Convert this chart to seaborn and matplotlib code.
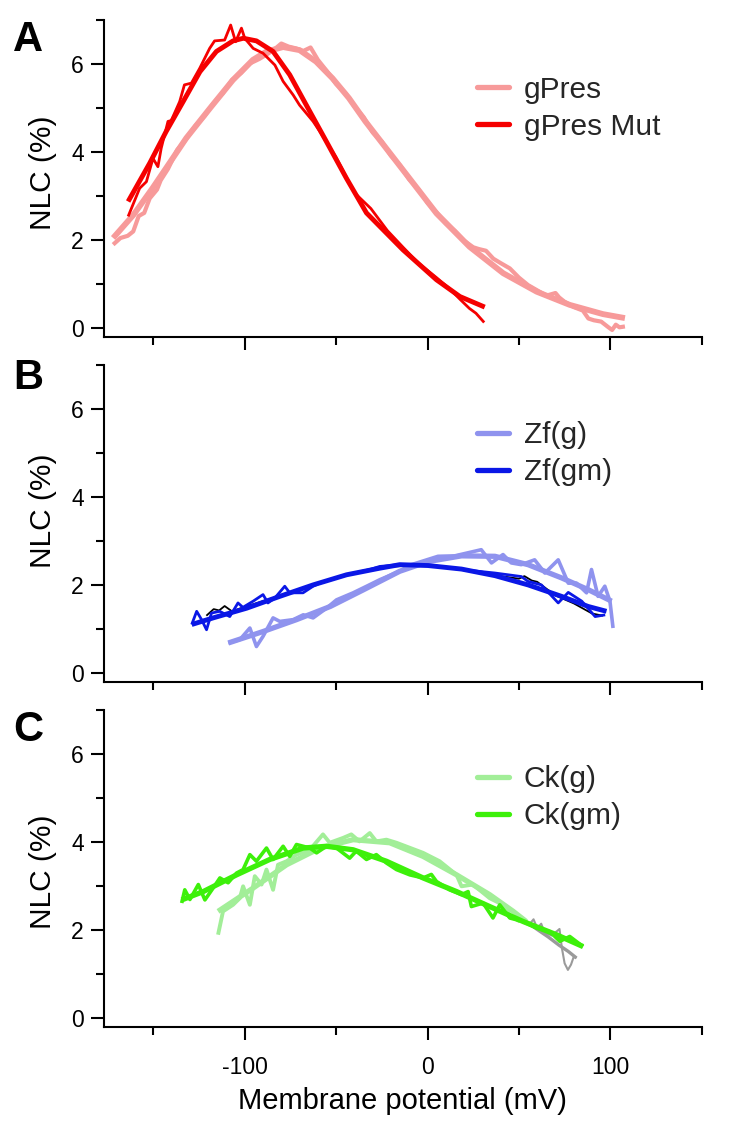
import matplotlib
matplotlib.use("Agg")
import matplotlib.pyplot as plt
from matplotlib.lines import Line2D
from matplotlib.ticker import MultipleLocator, FixedLocator
import seaborn as sns

# ---------------- data ----------------
# Panel A : gPres / gPres Mut
a_g_fit_x = [-172, -161, -150.5, -143, -132, -119, -106.5, -95.5, -88, -79, -70, -61, -52, -43, -34,
             -13.5, 4.9, 23, 41.4, 59.7, 77.8, 96, 108]
a_g_fit_y = [2.05, 2.57, 3.18, 3.64, 4.32, 5.0, 5.64, 6.10, 6.29, 6.39, 6.32, 6.06, 5.68, 5.23, 4.70,
             3.60, 2.61, 1.85, 1.25, 0.83, 0.53, 0.32, 0.23]
a_g_raw_x = [-172, -168, -164, -161, -158, -155, -152, -148, -146, -142, -137, -132, -127, -122, -117,
             -112, -107, -102, -97, -92, -88, -84, -80, -76, -72, -68, -64, -60, -55, -50, -45, -40,
             -35, -30, -25, -20, -15, -10, -5, 0, 5, 10, 15, 20, 25, 28, 32, 36, 40, 45, 50, 55, 60,
             65, 70, 72, 75, 80, 85, 88, 91, 95, 99, 101, 103, 105, 108]
a_g_raw_y = [1.90, 2.05, 2.10, 2.20, 2.55, 2.62, 2.95, 3.15, 3.36, 3.62, 4.05, 4.30, 4.60, 4.82, 5.12,
             5.34, 5.64, 5.80, 6.02, 6.12, 6.22, 6.33, 6.47, 6.40, 6.36, 6.30, 6.38, 6.10, 5.84, 5.55,
             5.35, 5.04, 4.80, 4.45, 4.24, 3.92, 3.70, 3.38, 3.16, 2.85, 2.63, 2.38, 2.21, 1.99, 1.84,
             1.80, 1.76, 1.58, 1.48, 1.36, 1.15, 0.98, 0.86, 0.74, 0.80, 0.70, 0.60, 0.48, 0.40, 0.22,
             0.18, 0.15, 0.02, -0.04, 0.08, 0.02, 0.04]
a_m_fit_x = [-163.8, -152, -143, -133.7, -124.5, -115.5, -106.4, -100.8, -93.6, -84.5, -75.4, -66.3,
             -55.3, -44.4, -33.4, -13.4, 4.9, 17.7, 31.3]
a_m_fit_y = [2.88, 3.75, 4.47, 5.15, 5.83, 6.29, 6.53, 6.59, 6.53, 6.29, 5.76, 5.07, 4.24, 3.41, 2.62,
             1.78, 1.10, 0.72, 0.48]
a_m_raw_x = [-163.8, -157.5, -153.8, -150.2, -147.5, -145.7, -142, -140.2, -135.6, -133, -129.2, -124.6,
             -119.2, -116.5, -111, -107.7, -105, -101.8, -100, -95.4, -90, -83.5, -79, -73.5, -70,
             -62.6, -58.9, -50, -40, -31, -22, -13.4, -5, 4.9, 12, 17.7, 22.9, 26.5, 31]
a_m_raw_y = [2.54, 3.18, 3.33, 3.86, 3.67, 4.09, 4.70, 4.72, 5.15, 5.53, 5.57, 5.91, 6.36, 6.53, 6.55,
             6.89, 6.51, 6.82, 6.59, 6.36, 6.25, 5.98, 5.61, 5.30, 5.07, 4.70, 4.47, 3.88, 3.08, 2.72,
             2.22, 1.84, 1.48, 1.15, 0.90, 0.66, 0.45, 0.34, 0.13]

# Panel B : Zf(g) / Zf(gm)
b_g_fit_x = [-109, -90, -71.7, -53.2, -35, -15.2, 0.3, 18.6, 36.9, 55, 73.3, 88, 100.7]
b_g_fit_y = [0.68, 0.94, 1.21, 1.51, 1.89, 2.31, 2.53, 2.66, 2.65, 2.46, 2.16, 1.89, 1.63]
b_g_raw_x = [-109, -102.6, -97.2, -93.6, -90, -84.5, -80.8, -73.5, -68, -62.6, -55.3, -49.8, -40.7,
             -33.3, -26, -15.2, -8.8, 5.7, 14.9, 29.4, 35, 41.3, 45.8, 51.3, 58.6, 64.2, 71.5, 77,
             81.5, 87, 89.7, 93.3, 97, 99.8, 101.5]
b_g_raw_y = [0.68, 0.76, 1.02, 0.60, 0.83, 1.25, 1.17, 1.21, 1.32, 1.25, 1.47, 1.66, 1.82, 1.97, 2.12,
             2.31, 2.46, 2.65, 2.66, 2.80, 2.50, 2.69, 2.50, 2.46, 2.57, 2.27, 2.57, 2.04, 2.04, 1.82,
             2.35, 1.74, 1.97, 1.63, 1.02]
b_m_fit_x = [-129, -117.3, -99, -80.8, -62.6, -44.3, -26.1, -15.2, 0.3, 18.6, 36.9, 55, 73.3, 87.9, 97.9]
b_m_fit_y = [1.10, 1.25, 1.47, 1.74, 2.00, 2.23, 2.38, 2.46, 2.44, 2.36, 2.21, 2.00, 1.74, 1.51, 1.40]
b_m_raw_x = [-129, -126.3, -123.6, -120.9, -118.2, -113.7, -108.2, -103.7, -101, -95.4, -90, -87.3,
             -83.6, -78.1, -75.4, -68.1, -62.6, -58.9, -44.3, -31.6, -26.1, -15.2, 0.3, 18.6, 36.9,
             51.3, 55, 62.3, 71.5, 77, 84.4, 91.7, 97.2]
b_m_raw_y = [1.10, 1.40, 1.21, 0.98, 1.36, 1.40, 1.28, 1.59, 1.49, 1.63, 1.78, 1.59, 1.70, 1.97, 1.82,
             1.82, 1.97, 2.04, 2.23, 2.35, 2.42, 2.46, 2.45, 2.35, 2.27, 2.19, 2.08, 2.00, 1.59, 1.83,
             1.63, 1.28, 1.32]
b_k_raw_x = [-121, -117, -114, -111, -107, -100, -80, -60, -40, -20, 0, 20, 40, 50, 53, 57, 60, 70, 80, 90, 96]
b_k_raw_y = [1.30, 1.45, 1.42, 1.52, 1.40, 1.50, 1.76, 2.02, 2.27, 2.42, 2.44, 2.35, 2.20, 2.14, 2.20,
             2.10, 2.07, 1.76, 1.58, 1.35, 1.30]

# Panel C : Ck(g) / Ck(gm)
c_g_fit_x = [-114.6, -95.4, -77.1, -58.8, -40.7, -20.7, -2.4, 15.9, 34, 46.9, 54]
c_g_fit_y = [2.43, 2.96, 3.49, 3.87, 4.06, 3.99, 3.68, 3.26, 2.81, 2.43, 2.20]
c_g_raw_x = [-114.6, -111.9, -106.4, -102.7, -100.9, -97.2, -94.5, -90.8, -88.1, -84.5, -81.8, -77.1,
             -71.7, -64.4, -57.2, -53.5, -46.2, -41.7, -37.2, -31.6, -28, -22.5, -17, -2.4, 6.6, 15.9,
             18.6, 24.8, 34, 41.3, 45, 50.4]
c_g_raw_y = [1.90, 2.43, 2.58, 2.73, 3.00, 2.58, 3.23, 3.04, 3.38, 2.92, 3.49, 3.57, 3.72, 3.83, 4.18,
             3.99, 4.10, 4.18, 4.02, 4.21, 4.02, 4.06, 3.99, 3.76, 3.57, 3.26, 3.00, 3.04, 2.73, 2.58,
             2.35, 2.20]
c_m_fit_x = [-134.5, -122.7, -104.5, -86.3, -68, -55.3, -40.7, -22.5, -2.4, 15.9, 34, 52.3, 70.5, 85.1]
c_m_fit_y = [2.69, 2.88, 3.26, 3.61, 3.87, 3.91, 3.83, 3.57, 3.19, 2.88, 2.54, 2.20, 1.90, 1.63]
c_m_raw_x = [-134.5, -132.8, -130, -125.4, -121.8, -117.3, -113.6, -109.1, -104.5, -100.9, -97.2, -93.6,
             -88.1, -84.5, -79, -75.4, -71.7, -64.4, -60.7, -55.3, -49.8, -42.6, -39, -33.4, -28, -22.5,
             -17, -9.7, -2.4, 2.1, 4.9, 12.1, 18.6, 22.2, 24, 30.4, 35.8, 39.5, 45, 52.3, 59.6, 66.9,
             72.4, 77.8, 85.1]
c_m_raw_y = [2.62, 2.92, 2.70, 3.04, 2.69, 2.96, 3.19, 3.08, 3.30, 3.38, 3.72, 3.57, 3.87, 3.61, 3.91,
             3.68, 3.95, 3.87, 3.76, 3.91, 3.87, 3.64, 3.80, 3.61, 3.72, 3.53, 3.38, 3.26, 3.19, 3.27,
             3.11, 2.92, 2.81, 2.88, 2.54, 2.62, 2.28, 2.58, 2.28, 2.20, 2.05, 1.97, 1.75, 1.86, 1.63]
c_gray_fit_x = [54, 60, 66, 72, 77, 81.5]
c_gray_fit_y = [2.20, 2.02, 1.85, 1.66, 1.52, 1.37]
c_gray_raw_x = [52, 56, 58, 60, 62.2, 64, 68, 72.2, 73.5, 75, 76.8, 78.5, 80, 81.5]
c_gray_raw_y = [2.22, 2.15, 2.25, 2.05, 2.15, 1.95, 1.88, 2.03, 1.60, 1.25, 1.10, 1.22, 1.40, 1.37]

legend_labels = [["gPres", "gPres Mut"], ["Zf(g)", "Zf(gm)"], ["Ck(g)", "Ck(gm)"]]
panel_letters = ["A", "B", "C"]
x_tick_major = [-100, 0, 100]
x_tick_minor = [-150, -50, 50, 150]

# ---------------- style ----------------
sns.set_theme(style="ticks")
plt.rcParams["font.family"] = ["Liberation Sans", "DejaVu Sans"]
plt.rcParams["axes.unicode_minus"] = False

PINK, RED = "#F79A9A", "#F50000"
LBLUE, BLUE = "#8F93EE", "#0A17E6"
LGREEN, GREEN = "#A2EE98", "#3DF00A"
GRAY = "#9A9A9A"

fig = plt.figure(figsize=(7.36, 11.22), dpi=100)
left, width, height = 0.1413, 0.8121, 0.28235
bottoms = [0.69964, 0.39242, 0.08458]
axes = [fig.add_axes([left, b, width, height]) for b in bottoms]


def line(ax, x, y, color, lw, z):
    sns.lineplot(x=x, y=y, ax=ax, color=color, lw=lw, sort=False, estimator=None,
                 zorder=z, solid_capstyle="butt")


axA, axB, axC = axes
# Panel A
line(axA, a_g_raw_x, a_g_raw_y, PINK, 3.0, 2)
line(axA, a_g_fit_x, a_g_fit_y, PINK, 4.2, 3)
line(axA, a_m_raw_x, a_m_raw_y, RED, 2.0, 4)
line(axA, a_m_fit_x, a_m_fit_y, RED, 3.5, 5)
# Panel B
line(axB, b_g_raw_x, b_g_raw_y, LBLUE, 2.6, 2)
line(axB, b_g_fit_x, b_g_fit_y, LBLUE, 3.8, 3)
line(axB, b_k_raw_x, b_k_raw_y, "black", 1.3, 3.5)
line(axB, b_m_raw_x, b_m_raw_y, BLUE, 2.0, 4)
line(axB, b_m_fit_x, b_m_fit_y, BLUE, 3.5, 5)
# Panel C
line(axC, c_gray_raw_x, c_gray_raw_y, GRAY, 1.5, 1)
line(axC, c_gray_fit_x, c_gray_fit_y, GRAY, 2.4, 1.5)
line(axC, c_g_raw_x, c_g_raw_y, LGREEN, 2.8, 2)
line(axC, c_g_fit_x, c_g_fit_y, LGREEN, 3.8, 3)
line(axC, c_m_raw_x, c_m_raw_y, GREEN, 2.6, 4)
line(axC, c_m_fit_x, c_m_fit_y, GREEN, 3.8, 5)

colors = [(PINK, RED), (LBLUE, BLUE), (LGREEN, GREEN)]
leg_y = [0.825, 0.822, 0.826]
ylab_y = [0.52, 0.54, 0.49]
letter_top = [20, 358, 710]

for i, ax in enumerate(axes):
    ax.set_xlim(-177, 150)
    ax.set_ylim(-0.2, 7.0)
    sns.despine(ax=ax)
    for s in ("left", "bottom"):
        ax.spines[s].set_linewidth(1.5)
        ax.spines[s].set_color("black")
    ax.xaxis.set_major_locator(FixedLocator(x_tick_major))
    ax.xaxis.set_minor_locator(FixedLocator(x_tick_minor))
    ax.yaxis.set_major_locator(MultipleLocator(2))
    ax.yaxis.set_minor_locator(FixedLocator([1, 3, 5, 7]))
    ax.tick_params(which="major", direction="out", length=9.5, width=1.5, color="black",
                   labelsize=16.5, labelcolor="black")
    ax.tick_params(which="minor", direction="out", length=5.5, width=1.5, color="black")
    ax.tick_params(axis="y", which="major", pad=5)
    ax.tick_params(axis="x", which="major", pad=11)
    ax.set_ylabel("NLC (%)", fontsize=21.5, color="black")
    ax.yaxis.set_label_coords(-0.079, ylab_y[i])
    if i < 2:
        ax.set_xticklabels([])
        ax.set_xlabel("")
    else:
        ax.set_xticklabels([str(v) for v in x_tick_major])
        ax.set_xlabel("Membrane potential (mV)", fontsize=21, color="black", labelpad=6)
    handles = [Line2D([0], [0], color=colors[i][0], lw=3.8),
               Line2D([0], [0], color=colors[i][1], lw=3.8)]
    ax.legend(handles, legend_labels[i], loc="upper left", bbox_to_anchor=(0.624, leg_y[i]),
              frameon=False, fontsize=21.5, handlelength=1.07, handletextpad=0.5,
              labelspacing=0.3, borderpad=0, borderaxespad=0)
    fig.text(13 / 736, 1 - letter_top[i] / 1122, panel_letters[i], fontsize=30,
             fontweight="bold", ha="left", va="top", color="black")

fig.savefig("out.png", dpi=100)
